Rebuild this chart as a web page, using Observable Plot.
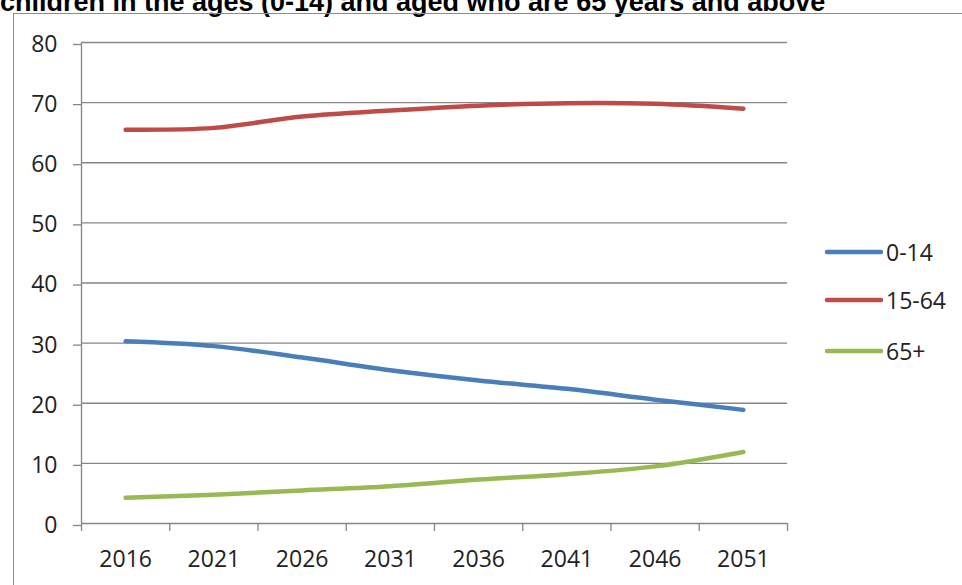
<!DOCTYPE html>
<html>
<head>
<meta charset="utf-8">
<script src="https://cdn.jsdelivr.net/npm/d3@7"></script>
<script src="https://cdn.jsdelivr.net/npm/@observablehq/plot@0.6"></script>
<style>
  html, body { margin: 0; padding: 0; background: #fff; width: 962px; height: 585px; overflow: hidden; }
  #title { position: absolute; left: 0; top: -13px; line-height: 27px; font: bold 27px "Liberation Sans", Arial, sans-serif; color: #000; white-space: nowrap; }
  #frame { position: absolute; left: 13px; top: 13px; width: 1000px; height: 700px; border: 1px solid #8c8c8c; }
  #chart { position: absolute; left: 0; top: 0; }
  .legend-row { position: absolute; left: 824px; height: 24px; display: flex; align-items: center; font: 23px "Open Sans", sans-serif; color: #222; }
  .legend-row svg { display: block; margin-right: 2px; }
</style>
</head>
<body>
<div id="title">children in the ages (0-14) and aged who are 65 years and above</div>
<div id="frame"></div>
<div id="chart"></div>
<div id="legend"></div>
<script>
// Projected share of population (%) by age group
const years = [2016, 2021, 2026, 2031, 2036, 2041, 2046, 2051];
const age0to14 = [30.3, 29.5, 27.6, 25.5, 23.8, 22.4, 20.6, 18.9];
const age15to64 = [65.5, 65.8, 67.7, 68.7, 69.5, 69.9, 69.8, 69.0];
const age65plus = [4.3, 4.8, 5.5, 6.2, 7.3, 8.2, 9.5, 11.9];

const groups = ["0-14", "15-64", "65+"];
const colors = ["#4a7ebb", "#be4b48", "#98b954"];
const yTicks = [0, 10, 20, 30, 40, 50, 60, 70, 80];
// category boundaries between the five-year steps
const xBounds = [2013.5, 2018.5, 2023.5, 2028.5, 2033.5, 2038.5, 2043.5, 2048.5, 2053.5];

const series = [age0to14, age15to64, age65plus];
const rows = groups.flatMap((g, k) => years.map((yr, i) => ({year: yr, group: g, value: series[k][i]})));

const gridColor = "#868686";

const chart = Plot.plot({
  width: 962,
  height: 585,
  marginLeft: 81,
  marginRight: 175,
  marginTop: 42,
  marginBottom: 62,
  style: {fontFamily: '"Open Sans", sans-serif', fontSize: "23px", color: "#222", background: "transparent", overflow: "visible"},
  x: {domain: [xBounds[0], xBounds[xBounds.length - 1]]},
  y: {domain: [0, 80]},
  color: {domain: groups, range: colors},
  marks: [
    Plot.gridY(yTicks, {stroke: gridColor, strokeOpacity: 1, strokeWidth: 1.3}),
    Plot.axisY(yTicks, {tickSize: 8, tickPadding: 16, stroke: gridColor, strokeWidth: 1.3, label: null, dy: 2}),
    Plot.ruleX([xBounds[0]], {stroke: gridColor, strokeWidth: 1.3}),
    Plot.axisX(xBounds, {tickSize: 8, tickFormat: () => "", stroke: gridColor, strokeWidth: 1.3, label: null}),
    Plot.axisX(years, {tickSize: 0, tickPadding: 27, tickFormat: "d", label: null}),
    Plot.line(rows, {x: "year", y: "value", z: "group", stroke: "group", strokeWidth: 4.5, strokeLinecap: "round", curve: "catmull-rom"})
  ]
});
document.getElementById("chart").appendChild(chart);

// Legend on the right: colour swatch line followed by the group name
const legend = document.getElementById("legend");
const legendCenters = [252, 300, 351];
groups.forEach((g, i) => {
  const row = document.createElement("div");
  row.className = "legend-row";
  row.style.top = (legendCenters[i] - 12) + "px";
  row.innerHTML = `<svg width="60" height="10"><line x1="3" y1="5" x2="57" y2="5" stroke="${colors[i]}" stroke-width="4.5" stroke-linecap="round"/></svg><span>${g}</span>`;
  legend.appendChild(row);
});
</script>
</body>
</html>
